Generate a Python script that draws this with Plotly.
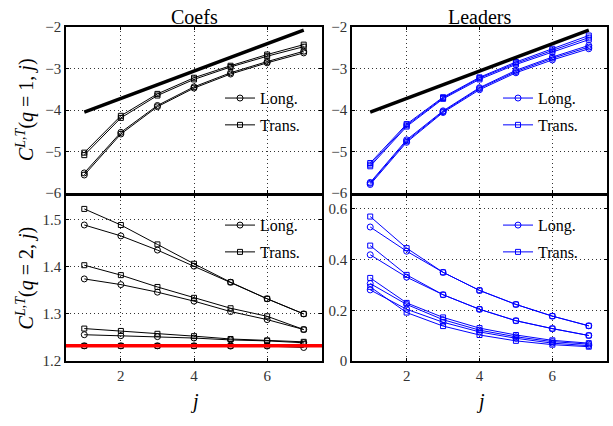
import plotly.graph_objects as go

j = [1, 2, 3, 4, 5, 6, 7]

# reference slope line (top panels)
ref_j = [1, 7]
ref_val = [-4.05, -2.07]

# Coefs, q = 1
coefs_q1_long = [
    [-5.57, -4.58, -3.92, -3.47, -3.13, -2.86, -2.62],
    [-5.52, -4.54, -3.89, -3.44, -3.10, -2.83, -2.58],
]
coefs_q1_trans = [
    [-5.09, -4.19, -3.65, -3.26, -2.96, -2.70, -2.47],
    [-5.03, -4.14, -3.61, -3.22, -2.93, -2.66, -2.42],
]
# Leaders, q = 1
lead_q1_long = [
    [-5.80, -4.78, -4.06, -3.51, -3.10, -2.79, -2.52],
    [-5.77, -4.75, -4.04, -3.48, -3.07, -2.75, -2.48],
    [-5.75, -4.72, -4.02, -3.46, -3.04, -2.72, -2.44],
]
lead_q1_trans = [
    [-5.36, -4.40, -3.73, -3.26, -2.90, -2.60, -2.30],
    [-5.32, -4.37, -3.71, -3.23, -2.87, -2.56, -2.25],
    [-5.28, -4.34, -3.69, -3.21, -2.84, -2.52, -2.20],
]
# Coefs, q = 2
coefs_q2_long = [
    [1.488, 1.465, 1.435, 1.401, 1.367, 1.332, 1.300],
    [1.374, 1.362, 1.346, 1.327, 1.305, 1.288, 1.267],
    [1.256, 1.254, 1.252, 1.249, 1.245, 1.243, 1.239],
    [1.2325, 1.2325, 1.2325, 1.2325, 1.232, 1.232, 1.229],
]
coefs_q2_trans = [
    [1.522, 1.488, 1.447, 1.406, 1.367, 1.332, 1.300],
    [1.403, 1.382, 1.357, 1.334, 1.312, 1.295, 1.267],
    [1.269, 1.264, 1.258, 1.253, 1.247, 1.244, 1.241],
    [1.2325, 1.2325, 1.2325, 1.2325, 1.2325, 1.233, 1.236],
]
red_level = 1.2325
# Leaders, q = 2
lead_q2_long = [
    [0.527, 0.432, 0.349, 0.278, 0.223, 0.177, 0.139],
    [0.418, 0.330, 0.261, 0.204, 0.159, 0.128, 0.101],
    [0.305, 0.223, 0.163, 0.122, 0.096, 0.077, 0.067],
    [0.280, 0.204, 0.153, 0.115, 0.090, 0.071, 0.061],
]
lead_q2_trans = [
    [0.568, 0.444, 0.349, 0.278, 0.223, 0.177, 0.139],
    [0.454, 0.339, 0.261, 0.204, 0.159, 0.128, 0.101],
    [0.327, 0.229, 0.172, 0.130, 0.103, 0.082, 0.071],
    [0.292, 0.191, 0.138, 0.103, 0.080, 0.065, 0.057],
]

FONT = "Liberation Serif"
W, H = 613, 426
fig = go.Figure()

panels = [
    ("x", "y", coefs_q1_long, coefs_q1_trans, "black", "legend"),
    ("x2", "y2", lead_q1_long, lead_q1_trans, "#0000ff", "legend2"),
    ("x3", "y3", coefs_q2_long, coefs_q2_trans, "black", "legend3"),
    ("x4", "y4", lead_q2_long, lead_q2_trans, "#0000ff", "legend4"),
]

for xa, ya, longs, transs, col, leg in panels:
    for k, s in enumerate(longs):
        fig.add_trace(go.Scatter(
            x=j, y=s, xaxis=xa, yaxis=ya, mode="lines+markers",
            line=dict(color=col, width=1),
            marker=dict(symbol="circle-open", size=6, color=col, line=dict(width=1)),
            name="Long.", showlegend=(k == 0), legend=leg, legendgroup=leg + "L"))
    for k, s in enumerate(transs):
        fig.add_trace(go.Scatter(
            x=j, y=s, xaxis=xa, yaxis=ya, mode="lines+markers",
            line=dict(color=col, width=1),
            marker=dict(symbol="square-open", size=5, color=col, line=dict(width=1)),
            name="Trans.", showlegend=(k == 0), legend=leg, legendgroup=leg + "T"))

for xa, ya in [("x", "y"), ("x2", "y2")]:
    fig.add_trace(go.Scatter(x=ref_j, y=ref_val, xaxis=xa, yaxis=ya, mode="lines",
                             line=dict(color="black", width=3.5), showlegend=False))

fig.add_shape(type="line", xref="x3 domain", yref="y3", x0=0, x1=1,
              y0=red_level, y1=red_level, line=dict(color="#ff0000", width=3.5))

colx = [(66 / W, 322 / W), (352 / W, 607 / W)]
rowy = [(1 - 192 / H, 1 - 20 / H), (1 - 367 / H, 1 - 195 / H)]

axcommon = dict(showline=True, linecolor="black", linewidth=1.5, mirror="ticks",
                ticks="inside", ticklen=3, tickcolor="black",
                showgrid=True, gridcolor="#333", griddash="1px,3px", gridwidth=1,
                zeroline=False, tickfont=dict(family=FONT, size=15, color="#333"))

layout = dict(
    width=W, height=H, margin=dict(l=0, r=0, t=0, b=0),
    plot_bgcolor="white", paper_bgcolor="white",
    font=dict(family=FONT, color="black"),
)
dom = {"": (colx[0], rowy[0]), "2": (colx[1], rowy[0]),
       "3": (colx[0], rowy[1]), "4": (colx[1], rowy[1])}
for i, key in enumerate(["", "2", "3", "4"]):
    xd, yd = dom[key]
    layout["xaxis" + key] = dict(axcommon, domain=list(xd), anchor="y" + key,
                                 range=[0.5, 7.5], tickvals=[2, 4, 6],
                                 showticklabels=(i >= 2))
    layout["yaxis" + key] = dict(axcommon, domain=list(yd), anchor="x" + key)
layout["yaxis"].update(range=[-6, -2], tickvals=[-6, -5, -4, -3, -2])
layout["yaxis2"].update(range=[-6, -2], tickvals=[-6, -5, -4, -3, -2])
layout["yaxis3"].update(range=[1.2, 1.55], tickvals=[1.2, 1.3, 1.4, 1.5])
layout["yaxis4"].update(range=[0, 0.65], tickvals=[0, 0.2, 0.4, 0.6])

legpos = {"legend": (220 / W, 1 - 76 / H), "legend2": (498 / W, 1 - 76 / H),
          "legend3": (220 / W, 1 - 208 / H), "legend4": (498 / W, 1 - 208 / H)}
for leg, (lx, ly) in legpos.items():
    layout[leg] = dict(x=lx, y=ly, xanchor="left", yanchor="top",
                       bgcolor="rgba(0,0,0,0)", borderwidth=0,
                       font=dict(family=FONT, size=16, color="black"),
                       itemwidth=30, tracegroupgap=3, traceorder="grouped")

fig.update_layout(**layout)

ann = [
    dict(text="Coefs", x=194 / W, y=1 - 9 / H),
    dict(text="Leaders", x=480 / W, y=1 - 9 / H),
    dict(text="<i>j</i>", x=194 / W, y=1 - 409 / H),
    dict(text="<i>j</i>", x=480 / W, y=1 - 409 / H),
]
for a in ann:
    fig.add_annotation(xref="paper", yref="paper", showarrow=False,
                       xanchor="center", yanchor="middle",
                       font=dict(family=FONT, size=20, color="black"), **a)
for txt, yy in [("<i>C</i><sup><i>L,T</i></sup>(<i>q</i> = 1, <i>j</i>)", 1 - 106 / H),
                ("<i>C</i><sup><i>L,T</i></sup>(<i>q</i> = 2, <i>j</i>)", 1 - 281 / H)]:
    fig.add_annotation(xref="paper", yref="paper", x=25 / W, y=yy, text=txt,
                       showarrow=False, textangle=-90, xanchor="center", yanchor="middle",
                       font=dict(family=FONT, size=20, color="black"))

fig.write_html(
    "out.html",
    config={"displayModeBar": False},
    post_script="document.body.style.margin='0';document.body.style.overflow='hidden';"
                "document.documentElement.style.overflow='hidden';",
)
